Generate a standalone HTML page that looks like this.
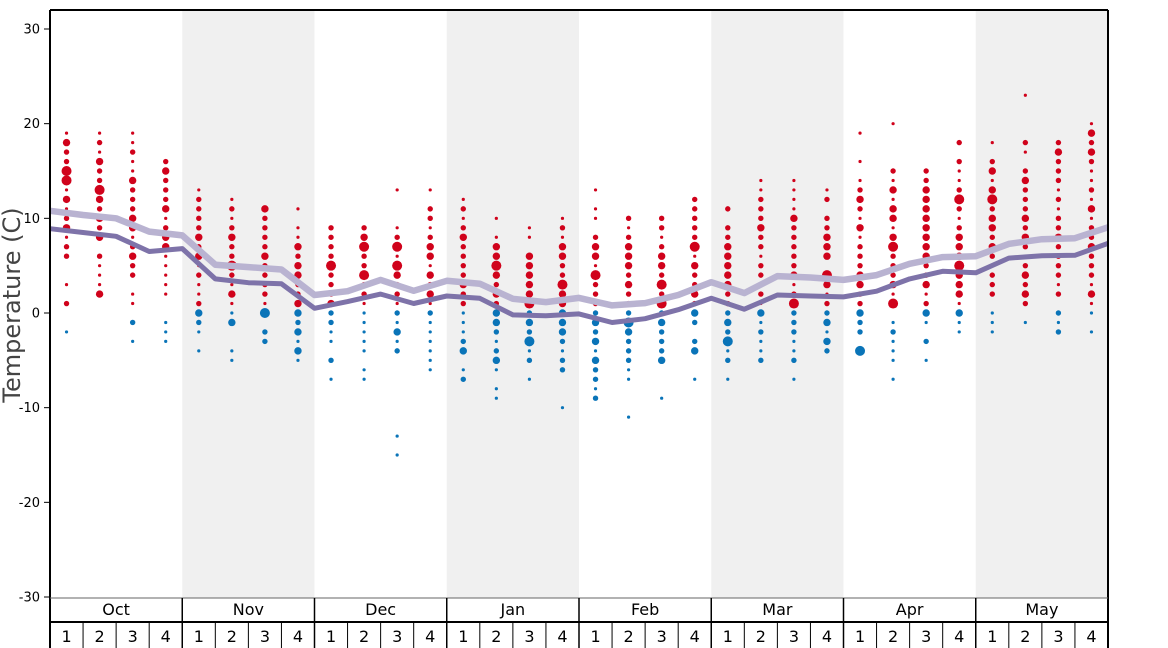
<!DOCTYPE html>
<html><head><meta charset="utf-8"><style>
html,body{margin:0;padding:0;background:#fff;}
svg{display:block;font-family:"DejaVu Sans","Liberation Sans",sans-serif;}
</style></head><body>
<svg id="chart" width="1168" height="648" viewBox="0 0 1168 648"></svg>
<script>
const months = ["Oct","Nov","Dec","Jan","Feb","Mar","Apr","May"];
const weekLabels = ["1","2","3","4"];
const yTicks = [30,20,10,0,-10,-20,-30];
const upperLine = [10.8,10.35,10.0,8.6,8.2,5.1,4.85,4.6,1.9,2.3,3.5,2.35,3.4,3.1,1.5,1.15,1.6,0.8,1.05,1.9,3.25,2.1,3.9,3.75,3.5,4.0,5.2,5.9,6.0,7.3,7.8,7.9,9.05];
const lowerLine = [8.9,8.5,8.1,6.5,6.8,3.6,3.2,3.1,0.5,1.2,2.0,1.0,1.8,1.55,-0.2,-0.3,-0.1,-1.0,-0.6,0.35,1.55,0.4,1.9,1.8,1.7,2.3,3.6,4.4,4.25,5.8,6.05,6.1,7.35];
// per week: top temperature, then size codes descending by 1 degree (0 = no dot)
const weekTops = [19,19,19,16,13,12,11,11,9,9,13,13,12,10,9,10,13,10,10,12,11,14,14,13,19,20,15,18,18,23,18,20];
const weekSizes = [
"1322441312312200102001","121322432323021113","11211322233123220110201","23222312331111100111",
"122223231211232101","121232242131130011","322223222214022","10113233223323131",
"22224222322110201","23422422111111011","10001241432212131200000000101","10221233132312111111",
"12123222232211123012","10133432323321231011","11033333423241201","121332243333321220001",
"10110233142222323132212","2123332322243222110001","22123324242322230001","22222413223232023001",
"2022333332223241201","11222322122121312112","1111322222312422211201","120223330431223132",
"100101232131222332232204","1000021313313422231401211101","223333333322312310201","202112421233343331311",
"102313423323212220111","1000021023222323202323201","232221212232222120212","13232112131223222131101"];

const NS="http://www.w3.org/2000/svg";
const svg=document.getElementById('chart');
const L=50,R=1108,T=10,B=598;
const nW=32, wW=(R-L)/nW;
const y=v=>313-(v*9.4667);
const xB=k=>L+k*wW;
const xC=i=>L+(i+0.5)*wW;
const radii=[0,1.6,2.7,3.7,5.0];
function mk(tag,attrs,parent){const e=document.createElementNS(NS,tag);for(const k in attrs)e.setAttribute(k,attrs[k]);(parent||svg).appendChild(e);return e;}

const bands=mk('g',{});


months.forEach((m,i)=>{if(i%2===1){const r=mk('rect',{x:xB(i*4),y:T,width:wW*4,height:B-T,fill:'#f0f0f0'},bands);

}});

const dots=mk('g',{});


weekSizes.forEach((s,i)=>{for(let j=0;j<s.length;j++){const sz=+s[j];if(!sz)continue;const t=weekTops[i]-j;
const c=mk('circle',{cx:xC(i),cy:y(t),r:radii[sz],fill:t>0?'#d0021b':'#0a74b8'},dots);

}});

function line(vals,color,w,name){const d=vals.map((v,k)=>(k?'L':'M')+xB(k).toFixed(1)+','+y(v).toFixed(1)).join('');
const p=mk('path',{d:d,fill:'none',stroke:color,'stroke-width':w,'stroke-linejoin':'round'});

}
line(upperLine,'#b9b3d1',6.5,'upper-line');
line(lowerLine,'#7e73a9',5,'lower-line');

mk('line',{x1:L,y1:T,x2:R,y2:T,stroke:'#000','stroke-width':2});
mk('line',{x1:R,y1:T,x2:R,y2:648,stroke:'#000','stroke-width':2});
mk('line',{x1:L,y1:T,x2:L,y2:648,stroke:'#000','stroke-width':2});
mk('line',{x1:L,y1:B,x2:R,y2:B,stroke:'#666','stroke-width':1});
mk('line',{x1:L,y1:622,x2:R,y2:622,stroke:'#000','stroke-width':2});

yTicks.forEach(v=>{mk('line',{x1:44,y1:y(v),x2:L,y2:y(v),stroke:'#000','stroke-width':1});
const t=mk('text',{x:40,y:y(v)+4.5,'text-anchor':'end','font-size':13,fill:'#000'});t.textContent=v;

});
const yt=mk('text',{x:0,y:0,transform:'translate(20,305) rotate(-90)','text-anchor':'middle','font-size':24,fill:'#444'});
yt.textContent='Temperature (C)';



months.forEach((m,i)=>{
 if(i>0){mk('line',{x1:xB(i*4),y1:B,x2:xB(i*4),y2:648,stroke:'#000','stroke-width':1.5});}
 const t=mk('text',{x:xB(i*4)+wW*2,y:615,'text-anchor':'middle','font-size':16,fill:'#000'});t.textContent=m;
 
 
 weekLabels.forEach((w,j)=>{const k=i*4+j;
  if(j>0)mk('line',{x1:xB(k),y1:622,x2:xB(k),y2:648,stroke:'#000','stroke-width':1});
  const wt=mk('text',{x:xC(k),y:642,'text-anchor':'middle','font-size':16,fill:'#000'});wt.textContent=w;
  
  });
});
</script>
</body></html>
